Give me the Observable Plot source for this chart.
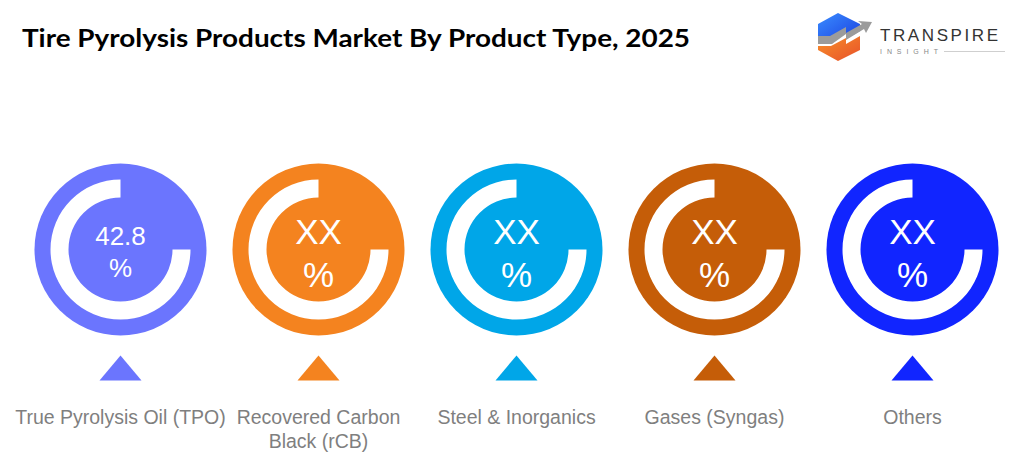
<!DOCTYPE html>
<html>
<head>
<meta charset="utf-8">
<script src="https://cdn.jsdelivr.net/npm/d3@7"></script>
<script src="https://cdn.jsdelivr.net/npm/@observablehq/plot@0.6"></script>
<style>
  html, body { margin: 0; padding: 0; background: #ffffff; }
  #wrap { position: relative; width: 1028px; height: 465px; overflow: hidden; background: #fff; }
  #chart { position: absolute; left: 0; top: 0; }
  #overlay { position: absolute; left: 0; top: 0; pointer-events: none; }
</style>
</head>
<body>
<div id="wrap">
  <div id="chart"></div>
  <svg id="overlay" width="1028" height="80" viewBox="0 0 1028 80">
    <defs>
      <linearGradient id="gBlue" x1="0" y1="0" x2="1" y2="1">
        <stop offset="0" stop-color="#3a8dff"/>
        <stop offset="1" stop-color="#1a3fe0"/>
      </linearGradient>
      <linearGradient id="gOrange" x1="0" y1="0" x2="1" y2="1">
        <stop offset="0" stop-color="#f7902a"/>
        <stop offset="1" stop-color="#e8512a"/>
      </linearGradient>
    </defs>
    <text x="22" y="47" textLength="668" lengthAdjust="spacingAndGlyphs"
      style="font-family:Lato,'Liberation Sans',sans-serif;font-weight:bold;font-size:25px;fill:#000;">Tire Pyrolysis Products Market By Product Type, 2025</text>
    <!-- logo icon -->
    <path d="M838,13 L860,24 L860,31 L846,39 L846,33 L831,42 L818,42 L818,24 Z" fill="url(#gBlue)"/>
    <path d="M818,46 L831,46 L846,38 L846,44 L860,36 L860,50 L838,61 L818,50 Z" fill="url(#gOrange)"/>
    <path d="M818,36 L830,36 L846,27 L846,33 L862,24 L858,21 L872,22 L866,33 L864,29 L846,40 L846,34 L832,44 L818,44 Z" fill="#9b9b9b"/>
    <text x="880" y="41" textLength="118" lengthAdjust="spacing"
      style="font-family:'Liberation Sans','DejaVu Sans',sans-serif;font-size:17px;fill:#333;">TRANSPIRE</text>
    <text x="880" y="54" textLength="58" lengthAdjust="spacing"
      style="font-family:'Liberation Sans','DejaVu Sans',sans-serif;font-size:7px;fill:#888;">INSIGHT</text>
    <line x1="944" y1="51.5" x2="1005" y2="51.5" stroke="#cfcfcf" stroke-width="1"/>
  </svg>
</div>
<script>
// ---- data ----
const categories = ["True Pyrolysis Oil (TPO)", "Recovered Carbon Black (rCB)", "Steel & Inorganics", "Gases (Syngas)", "Others"];
const axisLabels = ["True Pyrolysis Oil (TPO)", "Recovered Carbon\nBlack (rCB)", "Steel & Inorganics", "Gases (Syngas)", "Others"];
const shares = ["42.8", "XX", "XX", "XX", "XX"];
const colors = ["#6B75FE", "#F4831F", "#00A6E8", "#C55D08", "#1125FF"];

const data = categories.map((c, i) => ({
  category: c,
  label: axisLabels[i],
  share: shares[i],
  color: colors[i]
}));

// ring symbol: 270° white arc from 12 o'clock counter-clockwise to 3 o'clock
const ringSymbol = {
  draw(ctx, size) {
    const r = Math.sqrt(size / Math.PI);
    d3.arc()
      .innerRadius(r * 52 / 70)
      .outerRadius(r)
      .startAngle(Math.PI / 2)
      .endAngle(2 * Math.PI)
      .context(ctx)();
  }
};
// flattened pointer triangle
const pointerSymbol = {
  draw(ctx, size) {
    const r = Math.sqrt(size / Math.PI);
    const w = r, h = r * 25 / 21;
    ctx.moveTo(0, -h / 2);
    ctx.lineTo(w, h / 2);
    ctx.lineTo(-w, h / 2);
    ctx.closePath();
  }
};

const chart = Plot.plot({
  width: 1028,
  height: 465,
  marginTop: 0,
  marginBottom: 0,
  marginLeft: 119,
  marginRight: 116,
  x: { type: "point", domain: categories, padding: 0, axis: null },
  color: { type: "identity" },
  style: { background: "transparent", overflow: "visible" },
  marks: [
    Plot.dot(data, { x: "category", frameAnchor: "top", dy: 249, r: 86, fill: "color", stroke: null }),
    Plot.dot(data, { x: "category", frameAnchor: "top", dy: 249, r: 70, symbol: ringSymbol, fill: "white", stroke: null }),
    Plot.text(data.filter(d => d.share !== "XX"), {
      x: "category", frameAnchor: "top", dy: 250, text: d => d.share + "\n%",
      fill: "white", fontSize: 26, lineHeight: 1.22, lineAnchor: "middle",
      fontFamily: "'Liberation Sans', Arial, sans-serif"
    }),
    Plot.text(data.filter(d => d.share === "XX"), {
      x: "category", frameAnchor: "top", dy: 251, text: d => d.share + "\n%",
      fill: "white", fontSize: 35, lineHeight: 1.22, lineAnchor: "middle",
      fontFamily: "'Liberation Sans', Arial, sans-serif"
    }),
    Plot.dot(data, { x: "category", frameAnchor: "top", dy: 367.5, r: 21, symbol: pointerSymbol, fill: "color", stroke: null }),
    Plot.text(data, {
      x: "category", frameAnchor: "top", dy: 407, text: "label",
      lineAnchor: "top", fontSize: 19.5, lineHeight: 1.22, fill: "#7f7f7f",
      fontFamily: "'Liberation Sans', Arial, sans-serif"
    })
  ]
});
document.getElementById("chart").appendChild(chart);
</script>
</body>
</html>
